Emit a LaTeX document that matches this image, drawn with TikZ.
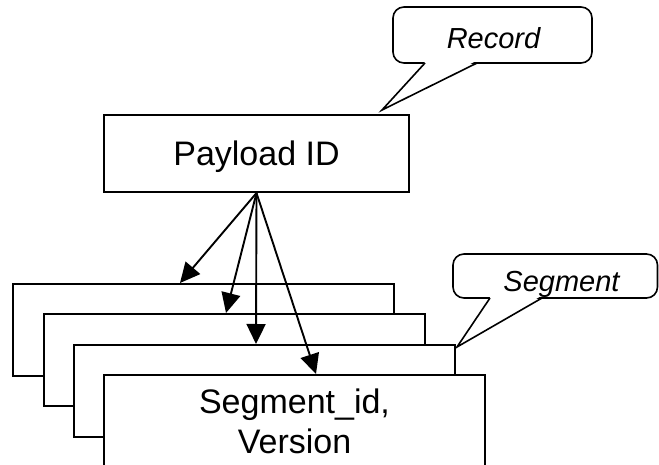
\documentclass[tikz,border=0pt]{standalone}
\usepackage{fontspec}
\setmainfont{Liberation Sans}
\usetikzlibrary{arrows.meta}
\begin{document}
\begin{tikzpicture}[x=1pt,y=-1pt,
  box/.style={draw=black,line width=2pt,fill=white,rectangle,inner sep=0pt,anchor=north west},
  segbox/.style={box,minimum width=381pt,minimum height=92pt},
  callout/.style={draw=black,line width=1.6pt,fill=white,rounded corners=11pt},
  tail/.style={draw=black,line width=1.6pt,line join=miter},
  calltext/.style={font=\itshape\fontsize{29}{34}\selectfont,anchor=base,inner sep=0pt},
  arr/.style={line width=1.9pt,-{Triangle[length=20pt,width=19pt]}}]
\useasboundingbox (0,0) rectangle (659,465);
% callout Record
\draw[callout] (393,7) rectangle (592,63);
\fill[white] (426,61) -- (382,110) -- (476,61) -- cycle;
\draw[tail] (425,63) -- (382,110) -- (477,63);
\node[calltext] (rec) at (493.5,49) {Record};
% callout Segment
\draw[callout] (453,254) rectangle (657.5,298);
\fill[white] (491,296) -- (457,347) -- (541,296) -- cycle;
\draw[tail] (490,298) -- (457,347) -- (542,298);
\node[calltext] (seg) at (561.5,291) {Segment};
% Payload box
\node[box,minimum width=305pt,minimum height=77pt,font=\fontsize{34}{40}\selectfont,text depth=0pt] (pid) at (103,114) {Payload ID};
% segment boxes
\node[segbox] (s1) at (12,283) {};
\node[segbox] (s2) at (43,313) {};
\node[segbox] (s3) at (73,344) {};
\node[segbox,align=center,font=\fontsize{34}{40}\selectfont] (s4) at (103,374) {Segment\_id,\\Version};
% arrow targets on top edges
\coordinate (t1) at (180,283);
\coordinate (t2) at (226,313);
\coordinate (t3) at (256,344);
\coordinate (t4) at (316,374);
\draw[arr] (pid.south) -- (t1);
\draw[arr] (pid.south) -- (t2);
\draw[arr] (pid.south) -- (t3);
\draw[arr] (pid.south) -- (t4);
\end{tikzpicture}
\end{document}
